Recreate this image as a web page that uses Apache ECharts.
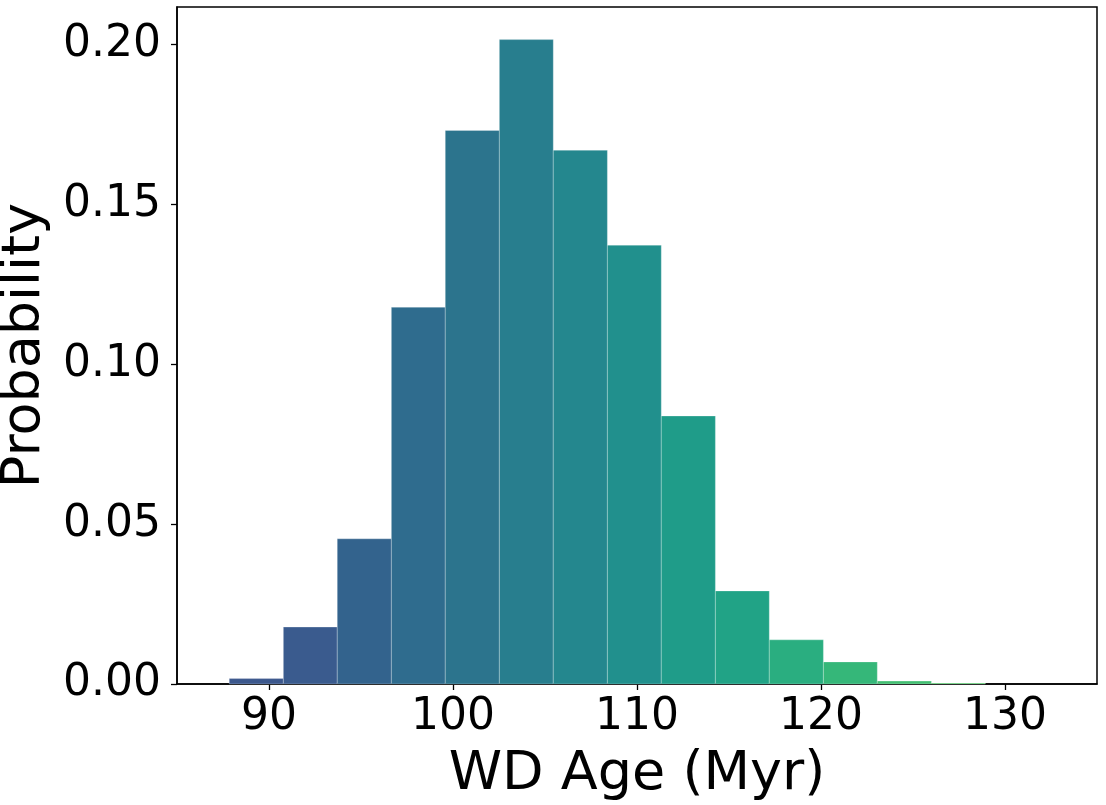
<!DOCTYPE html>
<html>
<head>
<meta charset="utf-8">
<title>WD Age histogram</title>
<script src="https://cdn.jsdelivr.net/npm/echarts@6/dist/echarts.min.js"></script>
<style>
  html, body { margin: 0; padding: 0; background: #fff; }
  #hist { width: 1106px; height: 805px; }
</style>
</head>
<body>
<div id="hist"></div>
<script>
// bin edges (Myr) and probability per bin
const binEdges = [87.84, 90.78, 93.71, 96.65, 99.58, 102.52, 105.45, 108.39,
                  111.32, 114.26, 117.19, 120.13, 123.06, 126.00, 128.93];
const probs = [0.0017, 0.0178, 0.0454, 0.1178, 0.1731, 0.2015, 0.1669,
               0.1372, 0.0838, 0.0291, 0.0138, 0.0069, 0.0009, 0.0003];
const xTicks = [90, 100, 110, 120, 130];
const yTicks = [0, 0.05, 0.10, 0.15, 0.20];

// viridis-ish colour per bar
const barColors = ['#3c588d', '#3a5b8e', '#33638d', '#2f6c8e', '#2c748d', '#287e8e', '#24878e',
                   '#21908d', '#1f9c89', '#21a386', '#2aae80', '#35b779', '#42be71', '#54c568'];

const font = 'DejaVu Sans';

const bars = probs.map(function (p, i) {
    return [binEdges[i], binEdges[i + 1], p];
});

const chart = echarts.init(document.getElementById('hist'));
chart.setOption({
    animation: false,
    backgroundColor: '#fff',
    grid: {
        left: 177,
        right: 9,
        top: 7,
        bottom: 121,
        outerBoundsMode: 'none',
        containLabel: false,
        show: true,
        borderColor: '#000',
        borderWidth: 1.5,
        backgroundColor: 'transparent'
    },
    xAxis: {
        type: 'value',
        min: 85,
        max: 135,
        name: 'WD Age (Myr)',
        nameLocation: 'middle',
        nameGap: 64,
        nameTextStyle: { fontSize: 54, color: '#000', fontFamily: font },
        axisLine: { show: true, onZero: false, lineStyle: { color: '#000', width: 1.5 } },
        axisTick: { show: true, length: 6, customValues: xTicks, lineStyle: { color: '#000', width: 1.3 } },
        axisLabel: {
            customValues: xTicks,
            fontSize: 44,
            color: '#000',
            fontFamily: font,
            margin: 12
        },
        splitLine: { show: false }
    },
    yAxis: {
        type: 'value',
        min: 0,
        max: 0.2117,
        name: 'Probability',
        nameLocation: 'middle',
        nameGap: 125,
        nameTextStyle: { fontSize: 54, color: '#000', fontFamily: font },
        axisLine: { show: true, lineStyle: { color: '#000', width: 1.5 } },
        axisTick: { show: true, length: 6, customValues: yTicks, lineStyle: { color: '#000', width: 1.3 } },
        axisLabel: {
            customValues: yTicks,
            fontSize: 44,
            color: '#000',
            fontFamily: font,
            margin: 16,
            formatter: function (v) { return v.toFixed(2); }
        },
        splitLine: { show: false }
    },
    series: [{
        type: 'custom',
        data: bars,
        encode: { x: [0, 1], y: 2 },
        renderItem: function (params, api) {
            const topLeft = api.coord([api.value(0), api.value(2)]);
            const bottomRight = api.coord([api.value(1), 0]);
            return {
                type: 'rect',
                shape: {
                    x: topLeft[0],
                    y: topLeft[1],
                    width: bottomRight[0] - topLeft[0],
                    height: bottomRight[1] - topLeft[1]
                },
                style: {
                    fill: barColors[params.dataIndex],
                    stroke: 'rgba(255,255,255,0.25)',
                    lineWidth: 1
                }
            };
        }
    }]
});
</script>
</body>
</html>
